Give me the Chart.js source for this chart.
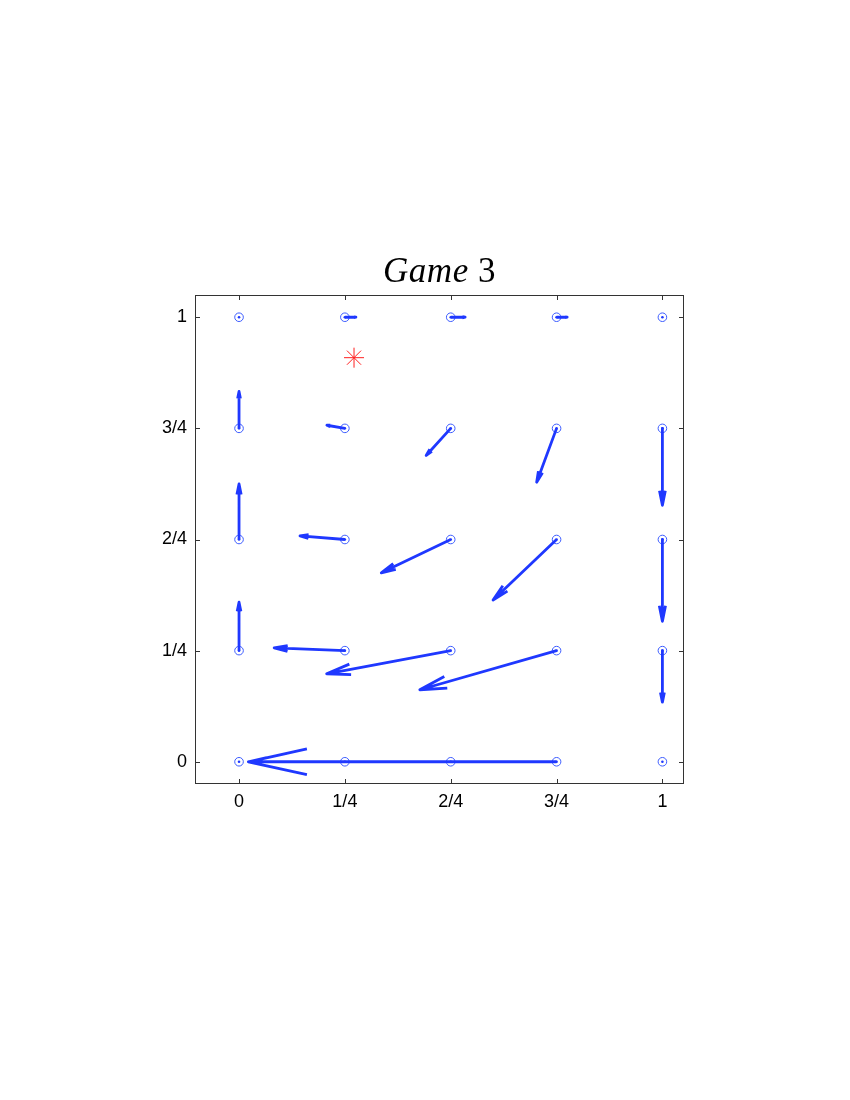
<!DOCTYPE html>
<html lang="en">
<head>
    <meta charset="UTF-8">
    <title>Game 3</title>
    <script src="https://cdn.jsdelivr.net/npm/chart.js"></script>
    <style>
        body{
            margin: 0;
            background: white;
        }
        .wrap{
            position: absolute;
            left: 0;
            top: 0;
            width: 850px;
            height: 1100px;
        }
        .title{
            position: absolute;
            left: 195px;
            width: 489px;
            top: 253px;
            text-align: center;
            font-family: "Liberation Serif", "DejaVu Serif", serif;
            font-size: 35px;
            line-height: 35px;
            letter-spacing: 0.5px;
            color: black;
        }
    </style>
</head>
<body>
    <div class="wrap"><canvas id="miCanvas"></canvas></div>
    <div class="title"><i>Game</i> 3</div>
    <script>
        // grid of base points (rows from top y=1 down to y=0)
        const gridX = [0, 0.25, 0.5, 0.75, 1];
        const gridY = [1, 0.75, 0.5, 0.25, 0];
        const tickValues = [0, 0.25, 0.5, 0.75, 1];
        const tickLabels = ['0', '1/4', '2/4', '3/4', '1'];

        // arrow components, one row per gridY value
        const uRows = [
            [0, 0.026, 0.034, 0.025, 0],
            [0, -0.0425, -0.058, -0.047, 0],
            [0, -0.106, -0.164, -0.150, 0],
            [0, -0.167, -0.293, -0.323, 0],
            [0, -0.228, -0.478, -0.728, 0]
        ];
        const vRows = [
            [0, 0, 0, 0, 0],
            [0.083, 0.007, -0.061, -0.121, -0.173],
            [0.125, 0.008, -0.075, -0.136, -0.184],
            [0.109, 0.006, -0.052, -0.088, -0.116],
            [0, 0, 0, 0, 0]
        ];

        // red star
        const starX = [0.2716];
        const starY = [0.909];

        const headLen = 0.19;   // head length as part of arrow
        const headWid = 0.21;   // barb spread

        const basePts = [];
        const arrowPts = [];
        const gap = {x: NaN, y: NaN};
        gridY.forEach((yy, r) => {
            gridX.forEach((xx, c) => {
                basePts.push({x: xx, y: yy});
                const u = uRows[r][c], v = vRows[r][c];
                if (u === 0 && v === 0) return;
                const tx = xx + u, ty = yy + v;
                arrowPts.push({x: xx, y: yy}, {x: tx, y: ty}, gap);
                arrowPts.push(
                    {x: tx - headLen * (u + headWid * v), y: ty - headLen * (v - headWid * u)},
                    {x: tx, y: ty},
                    {x: tx - headLen * (u - headWid * v), y: ty - headLen * (v + headWid * u)},
                    gap
                );
            });
        });

        const boxPlugin = {
            id: 'box',
            afterDraw(chart) {
                const {ctx, chartArea: a, scales: {x, y}} = chart;
                ctx.save();
                ctx.strokeStyle = '#333';
                ctx.lineWidth = 1;
                ctx.strokeRect(Math.round(a.left) + 0.5, Math.round(a.top) + 0.5,
                    Math.round(a.width) - 1, Math.round(a.height) - 1);
                ctx.beginPath();
                x.ticks.forEach(t => {
                    const p = Math.round(x.getPixelForValue(t.value)) + 0.5;
                    ctx.moveTo(p, a.bottom); ctx.lineTo(p, a.bottom - 5);
                    ctx.moveTo(p, a.top); ctx.lineTo(p, a.top + 5);
                });
                y.ticks.forEach(t => {
                    const p = Math.round(y.getPixelForValue(t.value)) + 0.5;
                    ctx.moveTo(a.left, p); ctx.lineTo(a.left + 5, p);
                    ctx.moveTo(a.right, p); ctx.lineTo(a.right - 5, p);
                });
                ctx.stroke();
                ctx.restore();
            }
        };

        const setTicks = (scale) => {
            scale.ticks = tickValues.map(v => ({value: v}));
        };
        const tickFont = {family: '"Liberation Sans", Arial, sans-serif', size: 18};

        new Chart(document.getElementById('miCanvas'), {
            type: 'scatter',
            data: {
                datasets: [
                    {
                        data: starX.map((v, i) => ({x: v, y: starY[i]})),
                        pointStyle: 'star',
                        pointRadius: 10,
                        borderColor: '#ff2020',
                        borderWidth: 1,
                        backgroundColor: '#ff2020'
                    },
                    {
                        data: arrowPts,
                        showLine: true,
                        spanGaps: false,
                        pointRadius: 0,
                        borderColor: '#1f38ff',
                        borderWidth: 2.8,
                        borderJoinStyle: 'round',
                        borderCapStyle: 'butt'
                    },
                    {
                        data: basePts,
                        pointStyle: 'circle',
                        pointRadius: 4.3,
                        borderWidth: 1,
                        borderColor: '#3c5cff',
                        backgroundColor: 'rgba(0,0,0,0)'
                    },
                    {
                        data: basePts,
                        pointStyle: 'circle',
                        pointRadius: 1.3,
                        borderWidth: 0,
                        backgroundColor: '#1f38ff'
                    }
                ]
            },
            options: {
                responsive: true,
                maintainAspectRatio: false,
                animation: false,
                layout: {padding: {left: 0, top: 295, right: 166, bottom: 0}},
                plugins: {
                    legend: {display: false},
                    tooltip: {enabled: false}
                },
                scales: {
                    x: {
                        type: 'linear',
                        min: -0.104,
                        max: 1.051,
                        afterBuildTicks: setTicks,
                        afterFit: (s) => { s.height = 316; },
                        grid: {display: false, drawTicks: false},
                        border: {display: false},
                        ticks: {
                            padding: 7,
                            color: 'black',
                            font: tickFont,
                            callback: (v) => tickLabels[tickValues.indexOf(v)]
                        }
                    },
                    y: {
                        type: 'linear',
                        min: -0.05,
                        max: 1.05,
                        afterBuildTicks: setTicks,
                        afterFit: (s) => { s.width = 195; },
                        grid: {display: false, drawTicks: false},
                        border: {display: false},
                        ticks: {
                            padding: 8,
                            color: 'black',
                            font: tickFont,
                            callback: (v) => tickLabels[tickValues.indexOf(v)]
                        }
                    }
                }
            },
            plugins: [boxPlugin]
        });
    </script>
</body>
</html>
